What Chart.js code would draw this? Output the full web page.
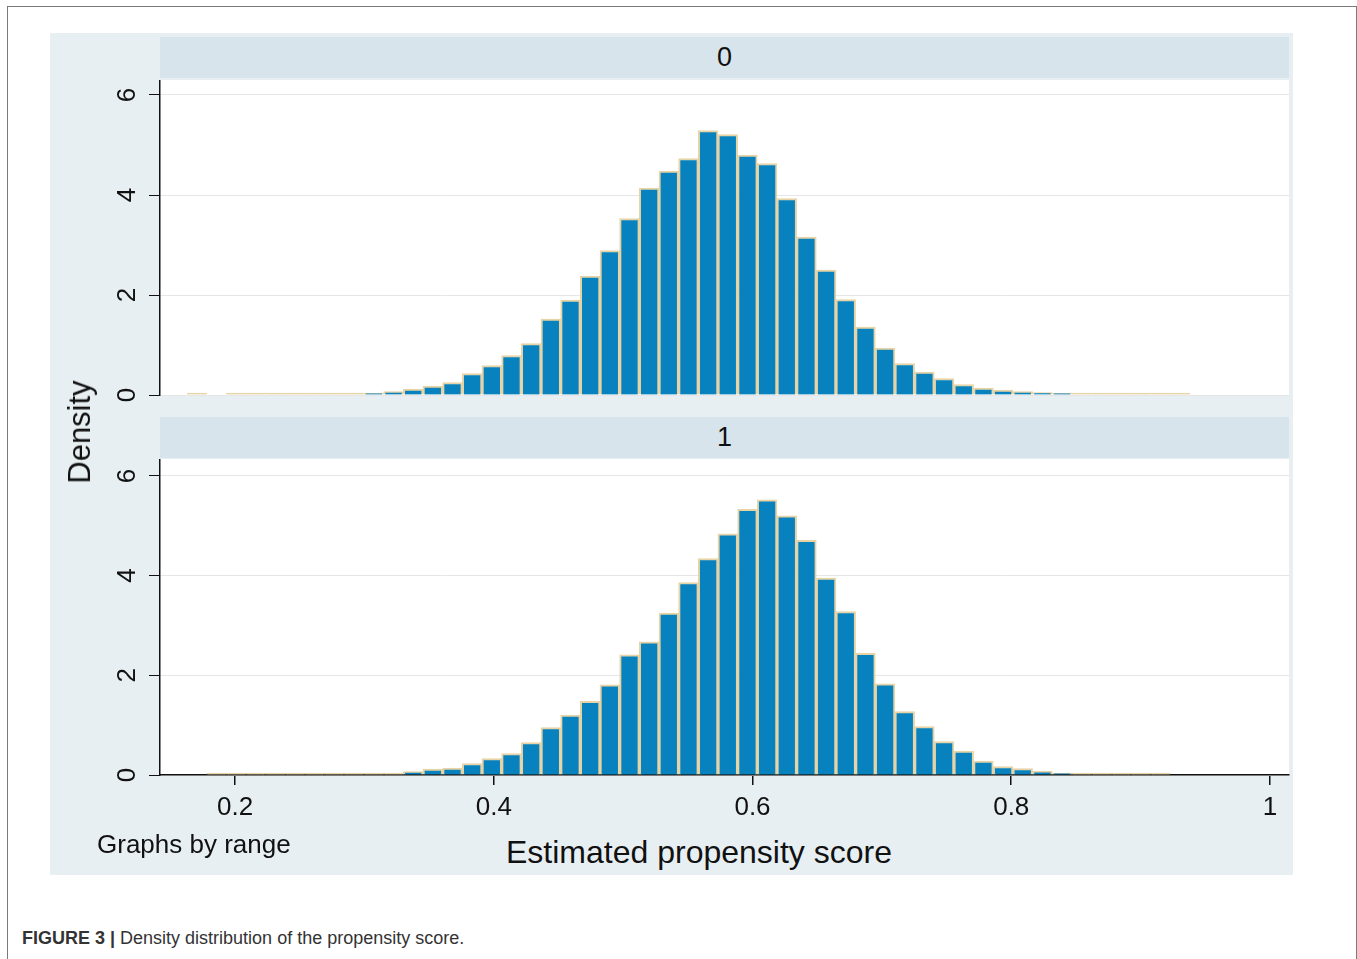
<!DOCTYPE html>
<html>
<head>
<meta charset="utf-8">
<script src="https://cdn.jsdelivr.net/npm/chart.js@4.4.1/dist/chart.umd.min.js"></script>
<style>
  html, body { margin: 0; padding: 0; background: #fff; }
  body { width: 1357px; height: 959px; position: relative; overflow: hidden;
         font-family: "Liberation Sans", Arial, Helvetica, sans-serif; color: #111; }
  .abs { position: absolute; }
  #frame { left: 7px; top: 6px; width: 1348px; height: 990px; border: 1px solid #7a7a7a; }
  #region { left: 50px; top: 33px; width: 1243px; height: 842px; background: #e8eff3; }
  .strip { left: 160px; width: 1129px; height: 41px; line-height: 41px; background: #d8e4ec;
           text-align: center; font-size: 27px; }
  #ytitle { left: 80px; top: 432px; font-size: 31px; transform: translate(-50%, -50%) rotate(-90deg);
            white-space: nowrap; }
  #note { left: 97px; top: 829px; font-size: 26px; white-space: nowrap; }
  #xtitle { left: 699px; top: 834px; font-size: 32px; transform: translateX(-50%); white-space: nowrap; }
  #caption { left: 22px; top: 928px; font-size: 18px; color: #333; white-space: nowrap; }
</style>
</head>
<body>
<div id="frame" class="abs"></div>
<div id="region" class="abs"></div>
<div class="abs strip" style="top:37px">0</div>
<div class="abs strip" style="top:417px">1</div>
<canvas id="top" class="abs" width="1243" height="333" style="left:50px;top:80px"></canvas>
<canvas id="bottom" class="abs" width="1243" height="371" style="left:50px;top:459px"></canvas>
<div id="ytitle" class="abs">Density</div>
<div id="note" class="abs">Graphs by range</div>
<div id="xtitle" class="abs">Estimated propensity score</div>
<div id="caption" class="abs"><b>FIGURE 3 |</b> Density distribution of the propensity score.</div>

<script>
// bin midpoints of the histogram (shared by both panels)
const binCenters = [
  0.1705, 0.1857, 0.2009, 0.2161, 0.2313, 0.2465, 0.2617, 0.2769, 0.2921, 0.3073,
  0.3225, 0.3377, 0.3529, 0.3681, 0.3833, 0.3985, 0.4137, 0.4289, 0.4441, 0.4593,
  0.4745, 0.4897, 0.5049, 0.5201, 0.5353, 0.5505, 0.5657, 0.5809, 0.5961, 0.6113,
  0.6265, 0.6417, 0.6569, 0.6721, 0.6873, 0.7025, 0.7177, 0.7329, 0.7481, 0.7633,
  0.7785, 0.7937, 0.8089, 0.8241, 0.8393, 0.8545, 0.8697, 0.8849, 0.9001, 0.9153,
  0.9305
];

// range = 0
const density0 = [
  0.02, null, 0.01, 0.01, 0.01, 0.01, 0.02, 0.02, 0.03, 0.04,
  0.07, 0.12, 0.18, 0.25, 0.43, 0.59, 0.79, 1.03, 1.52, 1.90,
  2.38, 2.89, 3.53, 4.14, 4.48, 4.73, 5.29, 5.21, 4.80, 4.63,
  3.93, 3.16, 2.50, 1.91, 1.36, 0.94, 0.63, 0.46, 0.33, 0.21,
  0.14, 0.10, 0.07, 0.05, 0.04, 0.03, 0.02, 0.02, 0.01, 0.01,
  0.01
];

// range = 1
const density1 = [
  null, 0.01, 0.01, 0.01, 0.01, 0.01, 0.01, 0.02, 0.02, 0.02,
  0.03, 0.07, 0.12, 0.14, 0.23, 0.33, 0.43, 0.65, 0.95, 1.20,
  1.48, 1.81, 2.41, 2.67, 3.25, 3.86, 4.34, 4.84, 5.33, 5.52,
  5.20, 4.71, 3.95, 3.28, 2.44, 1.83, 1.27, 0.97, 0.67, 0.48,
  0.28, 0.17, 0.13, 0.08, 0.04, 0.03, 0.02, 0.01, 0.01, 0.01,
  null
];

const xTicks = [0.2, 0.4, 0.6, 0.8, 1];
const yTicks = [0, 2, 4, 6];

const BLUE = '#0882bf';
const TAN = '#e6d3a6';
const FONT = '"Liberation Sans", Arial, Helvetica, sans-serif';

// white plot area + vertical y tick labels (Stata style)
const panelPlugin = {
  id: 'panel',
  beforeDraw(chart) {
    const a = chart.chartArea;
    const ctx = chart.ctx;
    ctx.save();
    ctx.fillStyle = '#fff';
    ctx.fillRect(a.left, a.top, a.right - a.left, a.bottom - a.top);
    ctx.restore();
  },
  afterDraw(chart) {
    const ys = chart.scales.y;
    const ctx = chart.ctx;
    ctx.save();
    ctx.fillStyle = '#111';
    ctx.font = '26px ' + FONT;
    ctx.textAlign = 'center';
    ctx.textBaseline = 'middle';
    yTicks.forEach(v => {
      const py = ys.getPixelForValue(v);
      ctx.save();
      ctx.translate(ys.right - 32, py);
      ctx.rotate(-Math.PI / 2);
      ctx.fillText(String(v), 0, 0);
      ctx.restore();
    });
    ctx.restore();
  }
};

function makePanel(id, values, yMax, showX) {
  return new Chart(document.getElementById(id), {
    type: 'bar',
    data: {
      datasets: [{
        data: binCenters.map((x, i) => ({ x: x, y: values[i] })),
        backgroundColor: c => (c.raw && c.raw.y !== null && c.raw.y < 0.04) ? TAN : BLUE,
        borderColor: TAN,
        borderWidth: 2,
        minBarLength: 2,
        barPercentage: 1,
        categoryPercentage: 1
      }]
    },
    options: {
      responsive: false,
      animation: false,
      devicePixelRatio: 1,
      layout: { padding: { top: 0, right: 4, bottom: showX ? 0 : 18, left: 0 } },
      plugins: { legend: { display: false }, tooltip: { enabled: false } },
      scales: {
        x: {
          type: 'linear',
          min: 0.142,
          max: 1.0147,
          offset: false,
          display: showX,
          afterBuildTicks: s => { s.ticks = xTicks.map(v => ({ value: v })); },
          afterFit: s => { if (showX) s.height = 55; },
          ticks: {
            color: '#111',
            font: { size: 26, family: FONT },
            padding: 7,
            maxRotation: 0,
            callback: v => String(v)
          },
          grid: { offset: false, drawOnChartArea: false, drawTicks: true, tickLength: 10,
                  color: '#111', lineWidth: 1.5 },
          border: { display: true, color: '#111', width: 1.5 }
        },
        y: {
          min: 0,
          max: yMax,
          afterBuildTicks: s => { s.ticks = yTicks.map(v => ({ value: v })); },
          afterFit: s => { s.width = 110; },
          ticks: { display: false },
          grid: { color: '#e6e6e6', lineWidth: 1, tickColor: '#111', tickLength: 11, drawTicks: true },
          border: { display: true, color: '#111', width: 1.5 }
        }
      }
    },
    plugins: [panelPlugin]
  });
}

makePanel('top', density0, 6.3, false);
makePanel('bottom', density1, 6.34, true);
</script>
</body>
</html>
